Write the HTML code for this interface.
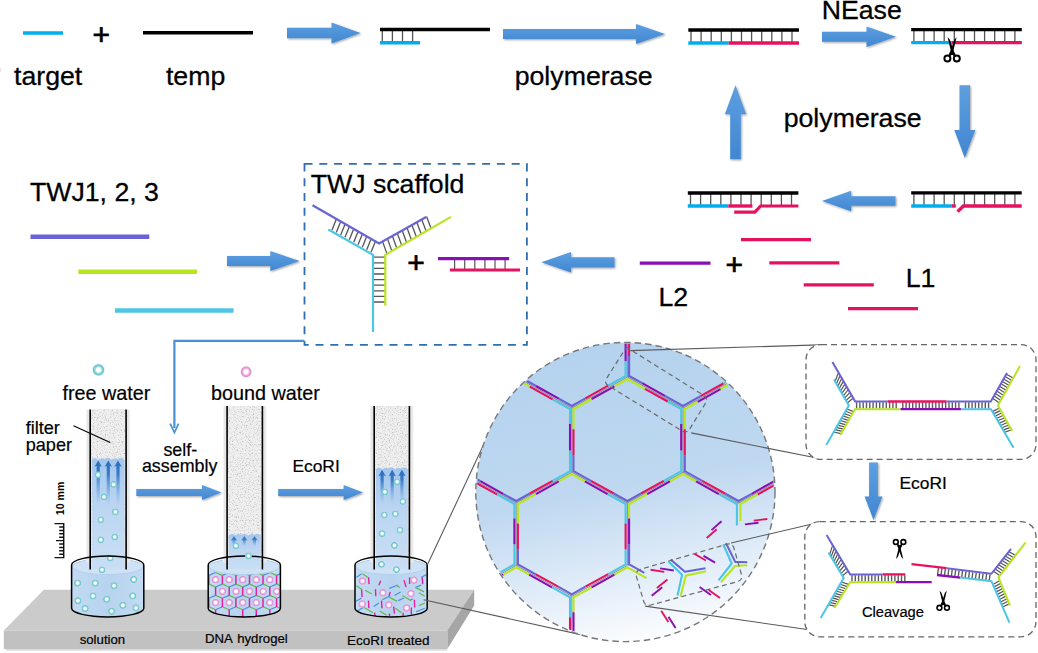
<!DOCTYPE html>
<html lang="en"><head><meta charset="utf-8"><title>DNA hydrogel capillary sensor scheme</title>
<style>
html,body{margin:0;padding:0;background:#fff;}
body{width:1038px;height:653px;overflow:hidden;}
svg{display:block;font-family:"Liberation Sans",Arial,Helvetica,sans-serif;fill:#000;}
</style></head><body>
<svg width="1038" height="653" viewBox="0 0 1038 653">
<defs>
<linearGradient id="ag" x1="0" y1="0" x2="0" y2="1"><stop offset="0" stop-color="#5d9fe0"/><stop offset="1" stop-color="#4186d1"/></linearGradient>
<filter id="sh" x="-20%" y="-20%" width="140%" height="150%"><feGaussianBlur in="SourceAlpha" stdDeviation="1.1"/><feOffset dx="0.6" dy="1.2"/><feComponentTransfer><feFuncA type="linear" slope="0.38"/></feComponentTransfer><feMerge><feMergeNode/><feMergeNode in="SourceGraphic"/></feMerge></filter>
<filter id="paper" x="0" y="0" width="100%" height="100%"><feTurbulence type="fractalNoise" baseFrequency="0.75" numOctaves="2" seed="7"/><feColorMatrix type="matrix" values="0 0 0 0 0.42  0 0 0 0 0.42  0 0 0 0 0.42  2.6 0 0 0 -1.32"/><feComposite in2="SourceGraphic" operator="in"/><feMerge><feMergeNode in="SourceGraphic"/><feMergeNode/></feMerge></filter>
<linearGradient id="circ" x1="0.42" y1="0" x2="0.62" y2="1"><stop offset="0" stop-color="#b4d2ee"/><stop offset="0.48" stop-color="#bfd8f0"/><stop offset="0.78" stop-color="#e2edf9"/><stop offset="1" stop-color="#fdfeff"/></linearGradient>
<linearGradient id="wat" x1="0" y1="0" x2="0" y2="1"><stop offset="0" stop-color="#a3c6ee"/><stop offset="0.45" stop-color="#bcd6f2"/><stop offset="1" stop-color="#c9def4"/></linearGradient>
<linearGradient id="cupw" x1="0" y1="0" x2="1" y2="0"><stop offset="0" stop-color="#c3dbf3"/><stop offset="0.5" stop-color="#b7d3ef"/><stop offset="1" stop-color="#c3dbf3"/></linearGradient>
<linearGradient id="ua" x1="0" y1="0" x2="0" y2="1"><stop offset="0" stop-color="#2a6cb8"/><stop offset="0.3" stop-color="#3b7cc6"/><stop offset="1" stop-color="#7fb0e6" stop-opacity="0"/></linearGradient>
<radialGradient id="dt"><stop offset="0" stop-color="#fff"/><stop offset="0.34" stop-color="#fbfefe"/><stop offset="0.6" stop-color="#8ad3d8"/><stop offset="0.84" stop-color="#6ec5cc"/><stop offset="1" stop-color="#9ad6dc" stop-opacity="0.35"/></radialGradient>
<radialGradient id="dp"><stop offset="0" stop-color="#fff"/><stop offset="0.36" stop-color="#fffafe"/><stop offset="0.62" stop-color="#eba6e0"/><stop offset="0.84" stop-color="#dc8fd0"/><stop offset="1" stop-color="#ecb4e4" stop-opacity="0.35"/></radialGradient>
<clipPath id="cclip"><circle cx="625.4" cy="492" r="148.6"/></clipPath>
</defs>
<rect width="1038" height="653" fill="#fff"/>

<g id="top-row">
<line x1="23" y1="33" x2="63" y2="33" stroke="#00aeef" stroke-width="3.4"/>
<text x="101.3" y="45.3" font-size="30" text-anchor="middle" stroke="#000" stroke-width="0.7">+</text>
<line x1="143" y1="32.8" x2="253" y2="32.8" stroke="#000" stroke-width="3.4"/>
<text x="14" y="84.6" font-size="26.7" stroke="#000" stroke-width="0.3">target</text>
<text x="165.9" y="84.6" font-size="26.7" stroke="#000" stroke-width="0.3">temp</text>
<polygon points="287,38.2 331.5,38.2 331.5,43.4 360.5,33 331.5,22.6 331.5,27.8 287,27.8" fill="url(#ag)" filter="url(#sh)"/>
<path d="M382.3 29.5V42.7M392.4 29.5V42.7M402.5 29.5V42.7M412.6 29.5V42.7" stroke="#555" stroke-width="1.3" fill="none"/>
<line x1="380" y1="29.5" x2="490" y2="29.5" stroke="#000" stroke-width="3.4"/>
<line x1="380" y1="42.7" x2="420" y2="42.7" stroke="#00aeef" stroke-width="3.4"/>
<polygon points="503,39.1 636,39.1 636,44.1 665,34 636,23.9 636,28.9 503,28.9" fill="url(#ag)" filter="url(#sh)"/>
<text x="514.7" y="84.7" font-size="26.7" stroke="#000" stroke-width="0.3">polymerase</text>
<path d="M691 30V43M701.1 30V43M711.2 30V43M721.3 30V43M731.4 30V43M741.5 30V43M751.6 30V43M761.7 30V43M771.8 30V43M781.9 30V43M792 30V43" stroke="#555" stroke-width="1.3" fill="none"/>
<line x1="688.3" y1="30" x2="799" y2="30" stroke="#000" stroke-width="3.4"/>
<line x1="688.3" y1="43" x2="728.6" y2="43" stroke="#00aeef" stroke-width="3.4"/>
<line x1="728.6" y1="43" x2="799" y2="43" stroke="#e6125f" stroke-width="3.4"/>
<text x="821.7" y="18.8" font-size="26.7" stroke="#000" stroke-width="0.3">NEase</text>
<polygon points="822,41.7 866.5,41.7 866.5,47 896,36.7 866.5,26.4 866.5,31.8 822,31.8" fill="url(#ag)" filter="url(#sh)"/>
<path d="M913.9 29.6V42.6M924 29.6V42.6M934.1 29.6V42.6M944.2 29.6V42.6M954.3 29.6V42.6M964.4 29.6V42.6M974.5 29.6V42.6M984.6 29.6V42.6M994.7 29.6V42.6M1004.8 29.6V42.6M1014.9 29.6V42.6" stroke="#555" stroke-width="1.3" fill="none"/>
<line x1="911.2" y1="29.6" x2="1021.8" y2="29.6" stroke="#000" stroke-width="3.4"/>
<line x1="911.2" y1="42.6" x2="951.5" y2="42.6" stroke="#00aeef" stroke-width="3.4"/>
<line x1="951.5" y1="42.6" x2="1021.8" y2="42.6" stroke="#e6125f" stroke-width="3.4"/>
<g transform="translate(952.1 51.1) rotate(0) scale(1)" fill="#000" stroke="none">
<path d="M-0.9 1.2 L-4.5 -13.8 L-2.2 -11.4 L2.7 2.8 Z"/>
<path d="M0.9 1.2 L4.5 -13.8 L2.2 -11.4 L-2.7 2.8 Z"/>
<circle cx="-4.7" cy="7.4" r="3" fill="none" stroke="#000" stroke-width="2"/>
<circle cx="4.7" cy="7.4" r="3" fill="none" stroke="#000" stroke-width="2"/>
<path d="M-2.4 1.5 L-0.2 -1 L1.9 2.2 L-2.9 5.6 L-3.9 4.9 Z"/>
<path d="M2.4 1.5 L0.2 -1 L-1.9 2.2 L2.9 5.6 L3.9 4.9 Z"/>
</g>
<polygon points="959.5,85.3 959.5,130 954.3,130 964.8,158 975.3,130 970,130 970,85.3" fill="url(#ag)" filter="url(#sh)"/>
<text x="783.7" y="127" font-size="26.7" stroke="#000" stroke-width="0.3">polymerase</text>
<polygon points="740.8,159.2 740.8,114.3 746.2,114.3 735.5,85.3 724.8,114.3 730.2,114.3 730.2,159.2" fill="url(#ag)" filter="url(#sh)"/>
<path d="M913.9 192.9V206M924 192.9V206M934.1 192.9V206M944.2 192.9V206M954.3 192.9V206M964.4 192.9V206M974.5 192.9V206M984.6 192.9V206M994.7 192.9V206M1004.8 192.9V206M1014.9 192.9V206" stroke="#555" stroke-width="1.3" fill="none"/>
<line x1="911.2" y1="192.9" x2="1021.7" y2="192.9" stroke="#000" stroke-width="3.4"/>
<line x1="911.2" y1="206" x2="951.8" y2="206" stroke="#00aeef" stroke-width="3.4"/>
<line x1="951.8" y1="206" x2="955.8" y2="206" stroke="#e6125f" stroke-width="3.4"/>
<polyline points="957.6,211.6 963.4,206 1021.7,206" fill="none" stroke="#e6125f" stroke-width="3.4" stroke-linejoin="miter"/>
<polygon points="895.5,196.2 851,196.2 851,190.7 822,201 851,211.3 851,205.8 895.5,205.8" fill="url(#ag)" filter="url(#sh)"/>
<path d="M690.5 193V206M700.6 193V206M710.7 193V206M720.8 193V206M730.9 193V206M741 193V206M751.1 193V206M761.2 193V206M771.3 193V206M781.4 193V206M791.5 193V206" stroke="#555" stroke-width="1.3" fill="none"/>
<line x1="687.8" y1="193" x2="798.4" y2="193" stroke="#000" stroke-width="3.4"/>
<line x1="687.8" y1="206" x2="728.3" y2="206" stroke="#00aeef" stroke-width="3.4"/>
<line x1="728.3" y1="206" x2="752.4" y2="206" stroke="#e6125f" stroke-width="3.4"/>
<polyline points="734.2,212.2 754.9,212.2 760.6,206 798.4,206" fill="none" stroke="#e6125f" stroke-width="3.2"/>
<line x1="741" y1="239.6" x2="811" y2="239.6" stroke="#e6125f" stroke-width="3.2"/>
<line x1="769.3" y1="262.9" x2="839.3" y2="262.9" stroke="#e6125f" stroke-width="3.2"/>
<line x1="803.7" y1="284.9" x2="873.8" y2="284.9" stroke="#e6125f" stroke-width="3.2"/>
<line x1="848" y1="308.7" x2="918" y2="308.7" stroke="#e6125f" stroke-width="3.2"/>
<text x="905.7" y="286.6" font-size="26.7" stroke="#000" stroke-width="0.3">L1</text>
<text x="734.3" y="274.6" font-size="30" text-anchor="middle" stroke="#000" stroke-width="0.7">+</text>
<line x1="639.8" y1="263.1" x2="710.5" y2="263.1" stroke="#8a0db5" stroke-width="3.4"/>
<text x="658.5" y="305.7" font-size="26.7" stroke="#000" stroke-width="0.3">L2</text>
<polygon points="614.5,257.2 571,257.2 571,252 541.3,262.3 571,272.6 571,267.4 614.5,267.4" fill="url(#ag)" filter="url(#sh)"/>
</g>
<g id="twj-strands">
<text x="29.9" y="201.2" font-size="26.7" stroke="#000" stroke-width="0.3">TWJ1, 2, 3</text>
<line x1="30.5" y1="236.8" x2="149.3" y2="236.8" stroke="#6a63d6" stroke-width="4.6"/>
<line x1="78.3" y1="271.7" x2="197" y2="271.7" stroke="#b8e61e" stroke-width="4.6"/>
<line x1="115" y1="310.5" x2="233.6" y2="310.5" stroke="#4cc6e6" stroke-width="4.6"/>
<polygon points="227,266.1 270.3,266.1 270.3,271 299.6,261 270.3,251 270.3,255.9 227,255.9" fill="url(#ag)" filter="url(#sh)"/>
</g>
<g id="scaffold-box">
<rect x="304.5" y="163.8" width="222.4" height="181" fill="none" stroke="#2f6fb0" stroke-width="1.8" stroke-dasharray="8 6.8"/>
<text x="310.7" y="193.4" font-size="26.7" stroke="#000" stroke-width="0.3">TWJ scaffold</text>
<path d="M336.4 219.1L332 229.9M340.7 221.6L336.3 232.4M345.1 224.1L340.7 234.9M349.4 226.5L345 237.3M353.7 229L349.3 239.8M358.1 231.5L353.7 242.3M362.4 234L358 244.8M366.7 236.4L362.3 247.2M371.1 238.9L366.7 249.7M375.4 241.4L371 252.2" stroke="#555" stroke-width="1.3" fill="none"/>
<path d="M382.6 241.6L387 253.9M387.5 238.8L391.9 251.1M392.4 236L396.8 248.2M397.3 233.3L401.7 245.4M402.2 230.5L406.6 242.5M407 227.7L411.4 239.7M411.9 224.9L416.3 236.8M416.8 222.2L421.2 234M421.7 219.4L426.1 231.1M426.6 216.6L431 228.3" stroke="#555" stroke-width="1.3" fill="none"/>
<path d="M373 257.2H385.3M373 262.8H385.3M373 268.4H385.3M373 274H385.3M373 279.6H385.3M373 285.2H385.3M373 290.8H385.3M373 296.4H385.3M373 302H385.3" stroke="#555" stroke-width="1.3" fill="none"/>
<polyline points="328.3,229.5 373,254.9 373,332" fill="none" stroke="#4cc6e6" stroke-width="2.2"/>
<polyline points="451,216.9 385.3,254.8 385.3,305.7" fill="none" stroke="#b8e61e" stroke-width="2.2"/>
<polyline points="312.5,205.3 379.1,243.5 426.2,217" fill="none" stroke="#6a63d6" stroke-width="2.2"/>
<text x="416" y="273" font-size="30" text-anchor="middle" stroke="#000" stroke-width="0.7">+</text>
<path d="M454.6 258.6V270M464.7 258.6V270M474.8 258.6V270M484.9 258.6V270M495 258.6V270M505.1 258.6V270" stroke="#555" stroke-width="1.2" fill="none"/>
<line x1="438" y1="258.6" x2="509" y2="258.6" stroke="#8a0db5" stroke-width="3.4"/>
<line x1="449.9" y1="270" x2="520" y2="270" stroke="#e6125f" stroke-width="3.2"/>
</g>
<path d="M304.5 340.9H174.4V428" fill="none" stroke="#4a90d9" stroke-width="2.2"/>
<path d="M170.2 423.6L174.4 432.5L178.6 423.6" fill="none" stroke="#4a90d9" stroke-width="1.7"/>
<g id="bench">
<polygon points="43.9,589.8 474.2,589.8 447.3,630.5 3.8,630.5" fill="#cbcbcb"/>
<polygon points="474.2,589.8 474.2,605.5 447.3,649 447.3,630.5" fill="#a6a6a6"/>
<rect x="3.8" y="630.5" width="443.5" height="18.5" fill="#c1c1c1"/>
<rect x="6" y="649" width="441" height="1.6" fill="#d9d9d9"/>
</g>
<g id="station-solution">
<path d="M71.6 567V608.3A36.1 8.6 0 0 0 143.8 608.3V567A36.1 9 0 0 0 71.6 567Z" fill="url(#cupw)"/>
<ellipse cx="107.7" cy="566.6" rx="35.3" ry="8" fill="#cfe2f5" stroke="#b3cfee" stroke-width="1"/>
<path d="M71.6 565A36.1 9 0 0 1 143.8 565A36.1 6.8 0 0 0 71.6 565Z" fill="#f3f7fc"/>
<rect x="86" y="410.5" width="44.3" height="151.5" fill="#f3f3f3"/>
<rect x="87.1" y="409.5" width="42.1" height="153.5" fill="#e6e6e6"/>
<rect x="90.2" y="409.5" width="35.9" height="156.5" fill="#efefef" filter="url(#paper)"/>
<path d="M91.8 569V460.1Q95.1 456.2 98.3 459.8Q101.6 457 104.9 459.2Q108.2 456.2 111.4 459.8Q114.7 457 118 459.2Q121.2 456.2 124.5 459.8V569Z" fill="url(#wat)"/>
<path d="M98.2 460.4L101.9 466.8L99.8 466L99.8 506L96.6 506L96.6 466L94.5 466.8Z" fill="url(#ua)"/>
<path d="M108.3 460.4L112 466.8L109.9 466L109.9 506L106.7 506L106.7 466L104.6 466.8Z" fill="url(#ua)"/>
<path d="M118 460.4L121.7 466.8L119.6 466L119.6 506L116.4 506L116.4 466L114.3 466.8Z" fill="url(#ua)"/>
<circle cx="98" cy="474.8" r="3.6" fill="url(#dt)"/>
<circle cx="113.6" cy="484.4" r="3.6" fill="url(#dt)"/>
<circle cx="104" cy="496.9" r="3.6" fill="url(#dt)"/>
<circle cx="115.4" cy="511.9" r="3.6" fill="url(#dt)"/>
<circle cx="100.8" cy="519.8" r="3.6" fill="url(#dt)"/>
<circle cx="114.7" cy="537" r="3.6" fill="url(#dt)"/>
<circle cx="100.8" cy="539.8" r="3.6" fill="url(#dt)"/>
<circle cx="110.2" cy="558" r="3.6" fill="url(#dt)"/>
<circle cx="102" cy="569.8" r="3.6" fill="url(#dt)"/>
<line x1="90.2" y1="409.5" x2="90.2" y2="569.5" stroke="#000" stroke-width="1.6"/>
<line x1="126.1" y1="409.5" x2="126.1" y2="569.5" stroke="#000" stroke-width="1.6"/>
<circle cx="77.6" cy="583.1" r="3.8" fill="url(#dt)"/>
<circle cx="95.2" cy="583.1" r="3.8" fill="url(#dt)"/>
<circle cx="114" cy="585.8" r="3.8" fill="url(#dt)"/>
<circle cx="133.7" cy="579.5" r="3.8" fill="url(#dt)"/>
<circle cx="93" cy="596" r="3.8" fill="url(#dt)"/>
<circle cx="106.7" cy="599.2" r="3.8" fill="url(#dt)"/>
<circle cx="132.7" cy="595.9" r="3.8" fill="url(#dt)"/>
<circle cx="77.9" cy="600.7" r="3.8" fill="url(#dt)"/>
<circle cx="85.1" cy="608.5" r="3.8" fill="url(#dt)"/>
<circle cx="111.6" cy="611.3" r="3.8" fill="url(#dt)"/>
<circle cx="122.9" cy="605.3" r="3.8" fill="url(#dt)"/>
<circle cx="136" cy="607.9" r="3.8" fill="url(#dt)"/>
<path d="M71.6 565A36.1 9 0 0 1 143.8 565V608.3A36.1 8.6 0 0 1 71.6 608.3Z" fill="none" stroke="#000" stroke-width="1.5" stroke-linejoin="round"/>
</g>
<g id="station-hydrogel">
<path d="M208.2 567V608.3A36.1 8.6 0 0 0 280.4 608.3V567A36.1 9 0 0 0 208.2 567Z" fill="url(#cupw)"/>
<ellipse cx="244.3" cy="566.6" rx="35.3" ry="8" fill="#cfe2f5" stroke="#b3cfee" stroke-width="1"/>
<path d="M208.2 565A36.1 9 0 0 1 280.4 565A36.1 6.8 0 0 0 208.2 565Z" fill="#f3f7fc"/>
<rect x="222.9" y="407" width="43.7" height="155" fill="#f3f3f3"/>
<rect x="224" y="406" width="41.5" height="157" fill="#e6e6e6"/>
<rect x="227.1" y="406" width="35.3" height="160" fill="#efefef" filter="url(#paper)"/>
<path d="M228.7 569V535.9Q231.9 532 235.1 535.6Q238.3 532.8 241.5 535Q244.7 532 248 535.6Q251.2 532.8 254.4 535Q257.6 532 260.8 535.6V569Z" fill="url(#wat)"/>
<path d="M234 536.2L237.4 540.8L235.5 540L235.5 546.5L232.5 546.5L232.5 540L230.6 540.8Z" fill="url(#ua)"/>
<path d="M244.3 536.2L247.7 540.8L245.8 540L245.8 546.5L242.8 546.5L242.8 540L240.9 540.8Z" fill="url(#ua)"/>
<path d="M254.5 536.2L257.9 540.8L256 540L256 546.5L253 546.5L253 540L251.1 540.8Z" fill="url(#ua)"/>
<circle cx="235.9" cy="545.8" r="3.6" fill="url(#dt)"/>
<line x1="227.1" y1="406" x2="227.1" y2="569.5" stroke="#000" stroke-width="1.6"/>
<line x1="262.4" y1="406" x2="262.4" y2="569.5" stroke="#000" stroke-width="1.6"/>
<clipPath id="c2"><path d="M208.2 567V608.3A36.1 8.6 0 0 0 280.4 608.3V567A36.1 8 0 0 1 208.2 567Z"/></clipPath>
<g clip-path="url(#c2)" stroke-width="1.25" fill="none">
<path d="M195.3 575.4L202 572.5M208.8 575.4L215.6 572.5M222.4 575.4L229.2 572.5M235.9 575.4L242.7 572.5M249.5 575.4L256.2 572.5M263 575.4L269.8 572.5M276.6 575.4L283.4 572.5M290.1 575.4L296.9 572.5M202.1 587L208.8 584.1M215.6 587L222.4 584.1M229.2 587L236 584.1M242.7 587L249.5 584.1M256.3 587L263.1 584.1M269.8 587L276.6 584.1M283.4 587L290.1 584.1M296.9 587L303.7 584.1M195.3 598.3L202 595.4M208.8 598.3L215.6 595.4M222.4 598.3L229.2 595.4M235.9 598.3L242.7 595.4M249.5 598.3L256.2 595.4M263 598.3L269.8 595.4M276.6 598.3L283.4 595.4M290.1 598.3L296.9 595.4M202.1 609.7L208.8 606.8M215.6 609.7L222.4 606.8M229.2 609.7L236 606.8M242.7 609.7L249.5 606.8M256.3 609.7L263.1 606.8M269.8 609.7L276.6 606.8M283.4 609.7L290.1 606.8M296.9 609.7L303.7 606.8" stroke="#4f8fdc"/>
<path d="M202 572.5L208.8 575.4M215.6 572.5L222.4 575.4M229.2 572.5L235.9 575.4M242.7 572.5L249.5 575.4M256.2 572.5L263 575.4M269.8 572.5L276.6 575.4M283.4 572.5L290.1 575.4M296.9 572.5L303.7 575.4M208.8 584.1L215.6 587M222.4 584.1L229.2 587M236 584.1L242.7 587M249.5 584.1L256.3 587M263.1 584.1L269.8 587M276.6 584.1L283.4 587M290.1 584.1L296.9 587M303.7 584.1L310.5 587M202 595.4L208.8 598.3M215.6 595.4L222.4 598.3M229.2 595.4L235.9 598.3M242.7 595.4L249.5 598.3M256.2 595.4L263 598.3M269.8 595.4L276.6 598.3M283.4 595.4L290.1 598.3M296.9 595.4L303.7 598.3M208.8 606.8L215.6 609.7M222.4 606.8L229.2 609.7M236 606.8L242.7 609.7M249.5 606.8L256.3 609.7M263.1 606.8L269.8 609.7M276.6 606.8L283.4 609.7M290.1 606.8L296.9 609.7M303.7 606.8L310.5 609.7" stroke="#6cb64a"/>
<path d="M195.3 575.4V584M208.8 575.4V584M222.4 575.4V584M235.9 575.4V584M249.5 575.4V584M263 575.4V584M276.6 575.4V584M290.1 575.4V584M202.1 587V595.6M215.6 587V595.6M229.2 587V595.6M242.7 587V595.6M256.3 587V595.6M269.8 587V595.6M283.4 587V595.6M296.9 587V595.6M195.3 598.3V606.9M208.8 598.3V606.9M222.4 598.3V606.9M235.9 598.3V606.9M249.5 598.3V606.9M263 598.3V606.9M276.6 598.3V606.9M290.1 598.3V606.9M202.1 609.7V618.3M215.6 609.7V618.3M229.2 609.7V618.3M242.7 609.7V618.3M256.3 609.7V618.3M269.8 609.7V618.3M283.4 609.7V618.3M296.9 609.7V618.3" stroke="#e21f9c" stroke-width="1.5"/>
</g>
<g clip-path="url(#c2)">
<circle cx="215.6" cy="579.7" r="4" fill="url(#dp)"/>
<circle cx="229.2" cy="579.7" r="4" fill="url(#dp)"/>
<circle cx="242.7" cy="579.7" r="4" fill="url(#dp)"/>
<circle cx="256.2" cy="579.7" r="4" fill="url(#dp)"/>
<circle cx="269.8" cy="579.7" r="4" fill="url(#dp)"/>
<circle cx="283.4" cy="579.7" r="4" fill="url(#dp)"/>
<circle cx="222.4" cy="591.3" r="4" fill="url(#dp)"/>
<circle cx="236" cy="591.3" r="4" fill="url(#dp)"/>
<circle cx="249.5" cy="591.3" r="4" fill="url(#dp)"/>
<circle cx="263.1" cy="591.3" r="4" fill="url(#dp)"/>
<circle cx="276.6" cy="591.3" r="4" fill="url(#dp)"/>
<circle cx="290.1" cy="591.3" r="4" fill="url(#dp)"/>
<circle cx="215.6" cy="602.6" r="4" fill="url(#dp)"/>
<circle cx="229.2" cy="602.6" r="4" fill="url(#dp)"/>
<circle cx="242.7" cy="602.6" r="4" fill="url(#dp)"/>
<circle cx="256.2" cy="602.6" r="4" fill="url(#dp)"/>
<circle cx="269.8" cy="602.6" r="4" fill="url(#dp)"/>
<circle cx="283.4" cy="602.6" r="4" fill="url(#dp)"/>
</g>
<path d="M208.2 565A36.1 9 0 0 1 280.4 565V608.3A36.1 8.6 0 0 1 208.2 608.3Z" fill="none" stroke="#000" stroke-width="1.5" stroke-linejoin="round"/>
<circle cx="248.5" cy="555.9" r="3.6" fill="url(#dt)"/>
</g>
<g id="station-treated">
<path d="M355 567V608.3A36.1 8.6 0 0 0 427.2 608.3V567A36.1 9 0 0 0 355 567Z" fill="url(#cupw)"/>
<ellipse cx="391.1" cy="566.6" rx="35.3" ry="8" fill="#cfe2f5" stroke="#b3cfee" stroke-width="1"/>
<path d="M355 565A36.1 9 0 0 1 427.2 565A36.1 6.8 0 0 0 355 565Z" fill="#f3f7fc"/>
<rect x="370" y="407" width="43.6" height="155" fill="#f3f3f3"/>
<rect x="371.1" y="406" width="41.4" height="157" fill="#e6e6e6"/>
<rect x="374.2" y="406" width="35.2" height="160" fill="#efefef" filter="url(#paper)"/>
<path d="M375.8 569V469.5Q379 465.6 382.2 469.2Q385.4 466.4 388.6 468.6Q391.8 465.6 395 469.2Q398.2 466.4 401.4 468.6Q404.6 465.6 407.8 469.2V569Z" fill="url(#wat)"/>
<path d="M382.1 469.8L385.8 476.2L383.7 475.4L383.7 504L380.5 504L380.5 475.4L378.4 476.2Z" fill="url(#ua)"/>
<path d="M392.2 469.8L395.9 476.2L393.8 475.4L393.8 504L390.6 504L390.6 475.4L388.5 476.2Z" fill="url(#ua)"/>
<path d="M401.9 469.8L405.6 476.2L403.5 475.4L403.5 504L400.3 504L400.3 475.4L398.2 476.2Z" fill="url(#ua)"/>
<circle cx="397.1" cy="481.8" r="3.6" fill="url(#dt)"/>
<circle cx="384.9" cy="491.9" r="3.6" fill="url(#dt)"/>
<circle cx="402.9" cy="501.5" r="3.6" fill="url(#dt)"/>
<circle cx="384.3" cy="515" r="3.6" fill="url(#dt)"/>
<circle cx="395.4" cy="513.9" r="3.6" fill="url(#dt)"/>
<circle cx="399.9" cy="530" r="3.6" fill="url(#dt)"/>
<circle cx="382.1" cy="533.6" r="3.6" fill="url(#dt)"/>
<circle cx="394.4" cy="545.4" r="3.6" fill="url(#dt)"/>
<circle cx="381.5" cy="564.3" r="3.6" fill="url(#dt)"/>
<circle cx="396.5" cy="569.6" r="3.6" fill="url(#dt)"/>
<line x1="374.2" y1="406" x2="374.2" y2="569.5" stroke="#000" stroke-width="1.6"/>
<line x1="409.4" y1="406" x2="409.4" y2="569.5" stroke="#000" stroke-width="1.6"/>
<clipPath id="c3"><path d="M355 567V608.3A36.1 8.6 0 0 0 427.2 608.3V567A36.1 8 0 0 1 355 567Z"/></clipPath>
<g clip-path="url(#c3)">
<path d="M356.4 577.2L361.6 573.7M389.3 588.4L398 585M394.5 595.4L400.6 591.9M373.7 606.6L378.9 603.1M382.4 599.7L389.3 596.2M355.6 601.4L361.6 598M398 600.6L404 598M357.3 610.9L363.4 607.5M416.1 611.8L424.8 608.3M415.3 587.6L421.3 585M410.1 600.6L412.7 598.8M421.3 577.2L426.5 574.6" stroke="#4f8fdc" stroke-width="1.2" fill="none"/>
<path d="M362.5 573.7L367.7 577.2M356.4 585.8L361.6 589.3M365.1 590.2L372 594M396.2 585.3L399.7 587.6M389.3 597.1L397.1 601.4M402.3 595.4L410.9 600.6M416.1 587.6L423.9 591.9M418.7 592.8L424.8 596.2M364.2 607.5L372.9 612.7M379.8 610.9L386.7 615.3M395.4 608.3L401.4 612.7M418.7 605.7L424.8 603.1" stroke="#6cb64a" stroke-width="1.2" fill="none"/>
<path d="M368.5 577.2L369.1 584.1M380.7 580.7L378.9 585.3M404 580.1L406.1 587.1M409.6 577.2L409.6 584.1M422.2 577.2L422.7 584.1M361.6 589.3L362.1 597.1M375.5 589.3L375.8 596.2M390.2 591.9L389 596.2M414.4 599.7L414.7 607.5M368.5 600.6L368.9 608.3M381.5 600.6L382 608.3M393.6 606.6L394.5 613.5M411.3 607.5L411.3 614.4M374.6 612.7L375.1 616.1M389.3 613.5L389.7 616.1M403.1 612.7L403.1 616.1" stroke="#e21f9c" stroke-width="1.4" fill="none"/>
<circle cx="362.5" cy="581" r="4" fill="url(#dp)"/>
<circle cx="414" cy="580.1" r="4" fill="url(#dp)"/>
<circle cx="382.9" cy="592.8" r="4" fill="url(#dp)"/>
<circle cx="410.9" cy="593.6" r="4" fill="url(#dp)"/>
<circle cx="362.1" cy="604" r="4" fill="url(#dp)"/>
<circle cx="388.8" cy="604.9" r="4" fill="url(#dp)"/>
<circle cx="406.6" cy="608" r="4" fill="url(#dp)"/>
</g>
<path d="M355 565A36.1 9 0 0 1 427.2 565V608.3A36.1 8.6 0 0 1 355 608.3Z" fill="none" stroke="#000" stroke-width="1.5" stroke-linejoin="round"/>
</g>
<g id="scene-labels">
<circle cx="98.5" cy="369.9" r="6.2" fill="url(#dt)"/>
<text x="62.4" y="400" font-size="19.8" stroke="#000" stroke-width="0.2">free water</text>
<circle cx="246.1" cy="371.8" r="5.8" fill="url(#dp)"/>
<text x="211" y="399.6" font-size="19.8" stroke="#000" stroke-width="0.2">bound water</text>
<text x="25.7" y="434.3" font-size="18.1" stroke="#000" stroke-width="0.2">filter</text>
<text x="25.7" y="450.8" font-size="18.1" stroke="#000" stroke-width="0.2">paper</text>
<line x1="73.5" y1="425.7" x2="110.2" y2="442.4" stroke="#000" stroke-width="1.1"/>
<text x="180.3" y="455.8" font-size="17.9" text-anchor="middle" stroke="#000" stroke-width="0.2">self-</text>
<text x="179.7" y="472.4" font-size="17.9" text-anchor="middle" stroke="#000" stroke-width="0.2">assembly</text>
<text x="292.4" y="472.4" font-size="17.4" stroke="#000" stroke-width="0.2">EcoRI</text>
<polygon points="136.3,496.1 202,496.1 202,500 221.4,492.5 202,485 202,488.9 136.3,488.9" fill="url(#ag)" filter="url(#sh)"/>
<polygon points="278.2,496.1 343.6,496.1 343.6,500 363,492.5 343.6,485 343.6,488.9 278.2,488.9" fill="url(#ag)" filter="url(#sh)"/>
<text x="79.7" y="643.8" font-size="13.2" stroke="#000" stroke-width="0.2">solution</text>
<text x="204.9" y="643.4" font-size="13.2" word-spacing="1.5" stroke="#000" stroke-width="0.2">DNA hydrogel</text>
<text x="347" y="644.6" font-size="13.5" stroke="#000" stroke-width="0.2">EcoRI treated</text>
<text transform="translate(63.6 515.2) rotate(-90)" font-size="10.6" font-weight="bold">10 mm</text>
<path d="M54.5 523.6H63.7V557.6H54.5M63.7 527H59.2M63.7 530.4H59.2M63.7 533.8H59.2M63.7 537.2H59.2M63.7 540.6H56M63.7 544H59.2M63.7 547.4H59.2M63.7 550.8H59.2M63.7 554.2H59.2" fill="none" stroke="#111" stroke-width="1.45"/>
</g>
<g id="zoom-circle">
<line x1="427.4" y1="564.8" x2="483.7" y2="444.6" stroke="#5a5a5a" stroke-width="1.1"/>
<line x1="423.6" y1="599.7" x2="580.6" y2="634.6" stroke="#5a5a5a" stroke-width="1.1"/>
<circle cx="625.4" cy="492" r="149.6" fill="url(#circ)" stroke="#777" stroke-width="1.4" stroke-dasharray="6.5 4"/>
<g clip-path="url(#cclip)" fill="none" stroke-linecap="butt">
<path d="M627.4 377L627.4 313M627.4 377L571.8 408M627.4 377L683 408M571.8 408L516.2 377M683 408L738.6 377M571.8 408L571.8 472.2M683 408L683 472.2M571.8 472.2L516.2 503M571.8 472.2L627.4 503M683 472.2L627.4 503M683 472.2L738.6 503M516.2 503L460.6 472.2M738.6 503L794.2 472.2M516.2 503L516.2 565.4M627.4 503L627.4 565.4M516.2 565.4L460.6 596.3M516.2 565.4L571.8 596.3M627.4 565.4L571.8 596.3M571.8 596.3L571.8 660" stroke="#8f8f8f" stroke-width="1"/>
<path d="M629.1 329.6L629.1 313M628.3 378.5L614.4 386.3M591.6 399L572.7 409.5M626.5 378.5L644.9 388.8M529.8 386.6L515.3 378.5M683.9 409.5L697.8 401.8M720.5 389.1L739.5 378.5M573.5 408L573.5 429.2M684.8 408L684.8 429.2M572.6 473.7L558.7 481.4M536 494.1L517 504.5M571 473.7L584.9 481.4M683.8 473.7L669.9 481.4M647.2 494.1L628.2 504.5M682.2 473.7L696.1 481.4M474.2 481.7L459.8 473.7M739.4 504.5L757.8 494.4M780.6 481.7L795 473.7M517.9 503L517.9 523.6M629.1 503L629.1 518.6M517.1 566.9L503.2 574.7M480.4 587.3L461.5 597.8M515.3 566.9L529.2 574.7M628.3 566.9L614.4 574.7M591.6 587.3L572.7 597.8M573.5 596.3L573.5 612.2M740.4 503L740.4 521M626.5 566.9L646.6 578.1" stroke="#b8e61e" stroke-width="2.1"/>
<path d="M625.6 377L625.6 361M625.6 334.8L625.6 313M626.5 375.5L608.2 385.7M667.7 401.5L682.1 409.5M570.9 409.5L552.6 399.3M723.3 383.5L737.7 375.5M570 408L570 424.1M570 450.4L570 472.2M681.2 408L681.2 424.1M681.2 450.4L681.2 472.2M571 470.7L552.6 480.8M607.6 494.1L626.6 504.5M682.2 470.7L663.8 480.8M718.8 494.1L737.8 504.5M515.4 504.5L497 494.4M774.4 481.1L793.4 470.7M514.4 503L514.4 518.6M514.4 544.2L514.4 565.4M625.6 503L625.6 523.6M625.6 549.2L625.6 565.4M515.3 563.9L497 574.1M552 587.3L570.9 597.8M626.5 563.9L608.2 574.1M570 596.3L570 617.3M570 643.4L570 660M736.9 503L736.9 525.5" stroke="#4cc6e6" stroke-width="2.1"/>
<path d="M629.1 377L629.1 355.9M585.4 398.4L570.9 406.5M628.3 375.5L642.2 383.2M664.9 395.9L683.9 406.5M572.7 406.5L558.8 398.7M536 386L517.1 375.5M682.1 406.5L700.5 396.2M573.5 455.5L573.5 472.2M684.8 455.5L684.8 472.2M529.8 493.5L515.4 501.5M572.6 470.7L591 480.8M613.8 493.5L628.2 501.5M641 493.5L626.6 501.5M683.8 470.7L702.2 480.8M725 493.5L739.4 501.5M517 501.5L503.1 493.8M480.4 481.1L461.4 470.7M737.8 501.5L751.7 493.8M517.9 549.2L517.9 565.4M629.1 544.2L629.1 565.4M474.2 586.7L459.7 594.8M517.1 563.9L535.4 574.1M558.2 586.7L572.7 594.8M585.4 586.7L570.9 594.8M573.5 638.3L573.5 660M628.3 563.9L644.3 572.8" stroke="#6a63d6" stroke-width="2.1"/>
<path d="M625.6 361L625.6 334.8M614.4 386.3L591.6 399M642.2 383.2L664.9 395.9M558.8 398.7L536 386M697.8 401.8L720.5 389.1M570 424.1L570 450.4M681.2 424.1L681.2 450.4M558.7 481.4L536 494.1M584.9 481.4L607.6 494.1M669.9 481.4L647.2 494.1M696.1 481.4L718.8 494.1M503.1 493.8L480.4 481.1M751.7 493.8L774.4 481.1M514.4 518.6L514.4 544.2M629.1 518.6L629.1 544.2M503.2 574.7L480.4 587.3M529.2 574.7L552 587.3M614.4 574.7L591.6 587.3M573.5 612.2L573.5 638.3" stroke="#8a0db5" stroke-width="2.1"/>
<path d="M629.1 355.9L629.1 329.6M608.2 385.7L585.4 398.4M644.9 388.8L667.7 401.5M552.6 399.3L529.8 386.6M700.5 396.2L723.3 383.5M573.5 429.2L573.5 455.5M684.8 429.2L684.8 455.5M552.6 480.8L529.8 493.5M591 480.8L613.8 493.5M663.8 480.8L641 493.5M702.2 480.8L725 493.5M497 494.4L474.2 481.7M757.8 494.4L780.6 481.7M517.9 523.6L517.9 549.2M625.6 523.6L625.6 549.2M497 574.1L474.2 586.7M535.4 574.1L558.2 586.7M608.2 574.1L585.4 586.7M570 617.3L570 643.4" stroke="#e6125f" stroke-width="2.1"/>
<line x1="706.7" y1="538" x2="716.7" y2="529.2" stroke="#e6125f" stroke-width="1.9"/>
<line x1="711.5" y1="530.1" x2="721.5" y2="521.3" stroke="#8a0db5" stroke-width="1.9"/>
<line x1="744.9" y1="524.4" x2="758.5" y2="522.8" stroke="#8a0db5" stroke-width="1.9"/>
<line x1="753.7" y1="520.6" x2="767.3" y2="519" stroke="#e6125f" stroke-width="1.9"/>
<line x1="694.3" y1="553.8" x2="705.9" y2="560.5" stroke="#e6125f" stroke-width="1.9"/>
<line x1="703.5" y1="555.9" x2="715.1" y2="562.6" stroke="#8a0db5" stroke-width="1.9"/>
<line x1="650.6" y1="569.8" x2="664.3" y2="571.9" stroke="#e6125f" stroke-width="1.9"/>
<line x1="660.1" y1="568.4" x2="673.8" y2="570.5" stroke="#8a0db5" stroke-width="1.9"/>
<line x1="651.7" y1="595.8" x2="662.2" y2="587.3" stroke="#8a0db5" stroke-width="1.9"/>
<line x1="656.9" y1="587.9" x2="667.4" y2="579.4" stroke="#e6125f" stroke-width="1.9"/>
<line x1="699.6" y1="586.9" x2="710.9" y2="595" stroke="#8a0db5" stroke-width="1.9"/>
<line x1="708.7" y1="590" x2="720" y2="598.1" stroke="#e6125f" stroke-width="1.9"/>
<line x1="661.2" y1="610.8" x2="668.4" y2="622" stroke="#e6125f" stroke-width="1.9"/>
<line x1="668.4" y1="616.7" x2="675.6" y2="627.9" stroke="#8a0db5" stroke-width="1.9"/>
<polyline points="670.6,559.5 684.9,571.7 705.5,568.2" fill="none" stroke="#6a63d6" stroke-width="2.1" stroke-linejoin="round"/>
<polyline points="706.1,571.2 685.9,575.6 680.5,596.4" fill="none" stroke="#b8e61e" stroke-width="2.1" stroke-linejoin="round"/>
<polyline points="677.5,595.6 682.1,574.7 668.6,561.7" fill="none" stroke="#4cc6e6" stroke-width="2.1" stroke-linejoin="round"/>
<polyline points="726,543.1 735.2,561.9 747.3,562.3" fill="none" stroke="#6a63d6" stroke-width="2.1" stroke-linejoin="round"/>
<polyline points="747.3,565.3 735,566 720.9,582.2" fill="none" stroke="#b8e61e" stroke-width="2.1" stroke-linejoin="round"/>
<polyline points="718.5,580.4 731.7,563.5 723.2,544.3" fill="none" stroke="#4cc6e6" stroke-width="2.1" stroke-linejoin="round"/>
</g>
<path d="M628.5 348.5Q626.8 346.4 625.4 348.7L606.5 378.5Q603.8 383 608.4 385.7L681.5 430.6Q686.8 433.8 690 428.5L705.6 403Q708.4 398.2 703.6 395.3Z" fill="none" stroke="#6a6a6a" stroke-width="1.2" stroke-dasharray="5 3.4"/>
<path d="M640.5 569.3Q635 571 636.4 576.5L643.6 601Q645.2 606.6 650.8 605L737.5 581.6Q743 580 741.4 574.5L734 548.3Q732.2 542.6 726.6 544.3Z" fill="none" stroke="#6a6a6a" stroke-width="1.2" stroke-dasharray="5 3.4"/>
<line x1="630.3" y1="350.6" x2="819.5" y2="344.9" stroke="#5a5a5a" stroke-width="1.1"/>
<line x1="691.2" y1="432.9" x2="818" y2="458.3" stroke="#5a5a5a" stroke-width="1.1"/>
<line x1="731" y1="543" x2="819.8" y2="522.2" stroke="#5a5a5a" stroke-width="1.1"/>
<line x1="645.1" y1="606.1" x2="808.9" y2="629.8" stroke="#5a5a5a" stroke-width="1.1"/>
</g>
<g id="panel-linked">
<rect x="806" y="344.6" width="230" height="114.8" rx="15" ry="15" fill="#fff" stroke="#666" stroke-width="1.3" stroke-dasharray="6 4"/>
<path d="M856.6 402.3V408.4M859.9 402.3V408.4M863.2 402.3V408.4M866.5 402.3V408.4M869.8 402.3V408.4M873.1 402.3V408.4M876.4 402.3V408.4M879.7 402.3V408.4M883 402.3V408.4M886.3 402.3V408.4M889.6 402.3V408.4M892.9 402.3V408.4M896.2 402.3V408.4M902.8 402.3V408.4M906.1 402.3V408.4M909.4 402.3V408.4M912.7 402.3V408.4M916 402.3V408.4M919.3 402.3V408.4M922.6 402.3V408.4M925.9 402.3V408.4M929.2 402.3V408.4M932.5 402.3V408.4M935.8 402.3V408.4M939.1 402.3V408.4M942.4 402.3V408.4M945.7 402.3V408.4M949 402.3V408.4M952.3 402.3V408.4M955.6 402.3V408.4M958.9 402.3V408.4M965.5 402.3V408.4M968.8 402.3V408.4M972.1 402.3V408.4M975.4 402.3V408.4M978.7 402.3V408.4M982 402.3V408.4M985.3 402.3V408.4M988.6 402.3V408.4" stroke="#5c5c5c" stroke-width="1.4" fill="none"/>
<path d="M838.6 372.6L835 381.4M840.2 375.4L836.4 383.8M841.8 378.2L837.8 386.2M843.5 381.1L839.1 388.6M845.1 383.9L840.5 391M846.7 386.7L841.9 393.4M848.3 389.5L843.3 395.8M850 392.4L844.6 398.2M851.6 395.2L846 400.6M853.2 398L847.4 403" stroke="#555" stroke-width="1.2" fill="none"/>
<path d="M846.8 409L853.6 411.6M845.5 411.3L852.3 413.8M844.2 413.6L851.1 416M842.8 415.9L849.8 418.2M841.5 418.2L848.6 420.4M840.2 420.5L847.3 422.6M838.9 422.8L846 424.8M837.6 425.1L844.8 427M836.2 427.4L843.5 429.2M834.9 429.7L842.3 431.4M833.6 432L841 433.6" stroke="#555" stroke-width="1.2" fill="none"/>
<path d="M992.6 398.2L999.4 403M994 395.8L1000.8 400.5M995.4 393.4L1002.2 398M996.7 391L1003.7 395.6M998.1 388.6L1005.1 393.1M999.5 386.2L1006.5 390.6M1000.9 383.8L1007.9 388.1M1002.3 381.4L1009.3 385.6M1003.6 379L1010.8 383.2M1005 376.6L1012.2 380.7M1006.4 374.2L1013.6 378.2" stroke="#555" stroke-width="1.2" fill="none"/>
<path d="M999.4 408L992.4 411.6M1000.8 410.4L993.7 413.9M1002.1 412.8L995.1 416.2M1003.5 415.3L996.4 418.5M1004.8 417.7L997.7 420.8M1006.2 420.1L999.1 423.2M1007.5 422.5L1000.4 425.5M1008.9 425L1001.7 427.8M1010.2 427.4L1003.1 430.1M1011.6 429.8L1004.4 432.4" stroke="#555" stroke-width="1.2" fill="none"/>
<polyline points="834,379.4 848.8,405.5 826.3,444.9" fill="none" stroke="#4cc6e6" stroke-width="2"/>
<polyline points="840.4,434.9 854.9,409.2 900.6,409.2" fill="none" stroke="#b8e61e" stroke-width="2"/>
<polyline points="832.4,362.1 855.2,401.5 887.7,401.5" fill="none" stroke="#6a63d6" stroke-width="2"/>
<line x1="887.7" y1="401.5" x2="946.6" y2="401.5" stroke="#e6125f" stroke-width="2.3"/>
<line x1="900.6" y1="409.2" x2="960.9" y2="409.2" stroke="#8a0db5" stroke-width="2.3"/>
<polyline points="946.6,401.5 990.8,401.5 1007,373" fill="none" stroke="#6a63d6" stroke-width="2"/>
<polyline points="960.9,409.2 991,409.2 1013.5,447.7" fill="none" stroke="#4cc6e6" stroke-width="2"/>
<polyline points="1020,366 997.9,405.4 1012.2,431" fill="none" stroke="#b8e61e" stroke-width="2"/>
</g>
<polygon points="869.1,462.4 869.1,496.6 864.6,496.6 873.5,520 882.4,496.6 877.9,496.6 877.9,462.4" fill="url(#ag)" filter="url(#sh)"/>
<text x="899.5" y="489.3" font-size="17.4" stroke="#000" stroke-width="0.2">EcoRI</text>
<g id="panel-cleaved">
<rect x="804.8" y="521.6" width="231.2" height="115.2" rx="15" ry="15" fill="#fff" stroke="#666" stroke-width="1.3" stroke-dasharray="6 4"/>
<path d="M852 575.3V581.4M855.3 575.3V581.4M858.6 575.3V581.4M861.9 575.3V581.4M865.2 575.3V581.4M868.5 575.3V581.4M871.8 575.3V581.4M875.1 575.3V581.4M878.4 575.3V581.4M881.7 575.3V581.4M885 575.3V581.4M888.3 575.3V581.4M891.6 575.3V581.4M894.9 575.3V581.4M898.2 575.3V581.4M901.5 575.3V581.4M904.8 575.3V581.4" stroke="#5c5c5c" stroke-width="1.4" fill="none"/>
<path d="M832.6 545.4L829.6 554.6M834.3 548.3L831 557M836 551.1L832.4 559.4M837.7 554L833.9 561.7M839.4 556.9L835.3 564.1M841 559.7L836.7 566.5M842.7 562.6L838.1 568.9M844.4 565.5L839.6 571.2M846.1 568.3L841 573.6M847.8 571.2L842.4 576" stroke="#555" stroke-width="1.2" fill="none"/>
<path d="M841.4 582L848.6 584.4M840.1 584.3L847.3 586.6M838.8 586.5L846 588.8M837.5 588.8L844.7 591M836.2 591L843.4 593.2M834.9 593.3L842.1 595.4M833.6 595.6L840.8 597.6M832.3 597.8L839.5 599.8M831 600.1L838.2 602M829.7 602.3L836.9 604.2M828.4 604.6L835.6 606.4" stroke="#555" stroke-width="1.2" fill="none"/>
<polyline points="828.5,552.6 843.7,578.1 820.7,617.9" fill="none" stroke="#4cc6e6" stroke-width="2"/>
<polyline points="834.4,608 850.2,582.2 895.9,582.2" fill="none" stroke="#b8e61e" stroke-width="2"/>
<polyline points="826.6,534.9 850.2,574.4 882.6,574.4" fill="none" stroke="#6a63d6" stroke-width="2"/>
<line x1="882.6" y1="574.4" x2="905.3" y2="574.4" stroke="#e6125f" stroke-width="2.3"/>
<line x1="895.9" y1="582.2" x2="931.7" y2="582.2" stroke="#8a0db5" stroke-width="2.3"/>
<path d="M938.5 568L937.6 574.4M941.9 568.4L941 574.8M945.4 568.9L944.5 575.2M948.8 569.3L947.9 575.6M952.2 569.7L951.4 576.1M955.7 570.1L954.8 576.5M959.1 570.6L958.2 576.9M962.5 571L961.7 577.3M966 571.4L965.1 577.7M969.4 571.8L968.6 578.1M972.8 572.3L972 578.5M976.3 572.7L975.4 578.9M979.7 573.1L978.9 579.4M983.1 573.5L982.3 579.8M986.6 574L985.8 580.2M990 574.4L989.2 580.6" stroke="#5c5c5c" stroke-width="1.4" fill="none"/>
<path d="M993.2 571L999.6 575.4M994.9 568.8L1001.4 573.2M996.6 566.7L1003.2 571M998.3 564.5L1004.9 568.8M1000 562.4L1006.7 566.6M1001.8 560.2L1008.5 564.4M1003.5 558.1L1010.3 562.2M1005.2 555.9L1012 560M1006.9 553.8L1013.8 557.8M1008.6 551.6L1015.6 555.6" stroke="#555" stroke-width="1.2" fill="none"/>
<path d="M999.8 580.6L993 584.4M1000.9 583.2L994.1 586.9M1002 585.7L995.2 589.4M1003.1 588.3L996.3 591.9M1004.2 590.8L997.4 594.4M1005.2 593.4L998.4 597M1006.3 595.9L999.5 599.5M1007.4 598.5L1000.6 602M1008.5 601L1001.7 604.5M1009.6 603.6L1002.8 607" stroke="#555" stroke-width="1.2" fill="none"/>
<line x1="911.5" y1="564.1" x2="946.6" y2="568.2" stroke="#e6125f" stroke-width="2.3"/>
<polyline points="946.6,568.2 991.4,573.8 1011,548.9" fill="none" stroke="#6a63d6" stroke-width="2"/>
<line x1="937" y1="575" x2="960.3" y2="577.6" stroke="#8a0db5" stroke-width="2.3"/>
<polyline points="960.3,577.6 991.4,581.2 1009.4,622.6" fill="none" stroke="#4cc6e6" stroke-width="2"/>
<polyline points="1025.6,542.4 998.5,577.5 1010,605.5" fill="none" stroke="#b8e61e" stroke-width="2"/>
<g transform="translate(899.6 547.9) rotate(180) scale(0.8)" fill="#000" stroke="none">
<path d="M-0.9 1.2 L-4.5 -13.8 L-2.2 -11.4 L2.7 2.8 Z"/>
<path d="M0.9 1.2 L4.5 -13.8 L2.2 -11.4 L-2.7 2.8 Z"/>
<circle cx="-4.7" cy="7.4" r="3" fill="none" stroke="#000" stroke-width="2"/>
<circle cx="4.7" cy="7.4" r="3" fill="none" stroke="#000" stroke-width="2"/>
<path d="M-2.4 1.5 L-0.2 -1 L1.9 2.2 L-2.9 5.6 L-3.9 4.9 Z"/>
<path d="M2.4 1.5 L0.2 -1 L-1.9 2.2 L2.9 5.6 L3.9 4.9 Z"/>
</g>
<g transform="translate(943.2 601.9) rotate(0) scale(0.8)" fill="#000" stroke="none">
<path d="M-0.9 1.2 L-4.5 -13.8 L-2.2 -11.4 L2.7 2.8 Z"/>
<path d="M0.9 1.2 L4.5 -13.8 L2.2 -11.4 L-2.7 2.8 Z"/>
<circle cx="-4.7" cy="7.4" r="3" fill="none" stroke="#000" stroke-width="2"/>
<circle cx="4.7" cy="7.4" r="3" fill="none" stroke="#000" stroke-width="2"/>
<path d="M-2.4 1.5 L-0.2 -1 L1.9 2.2 L-2.9 5.6 L-3.9 4.9 Z"/>
<path d="M2.4 1.5 L0.2 -1 L-1.9 2.2 L2.9 5.6 L3.9 4.9 Z"/>
</g>
<text x="861.9" y="617" font-size="14.7" stroke="#000" stroke-width="0.2">Cleavage</text>
</g>
<rect x="0" y="68" width="1" height="4" fill="#ccc" opacity="0.5"/>
</svg>
</body></html>
